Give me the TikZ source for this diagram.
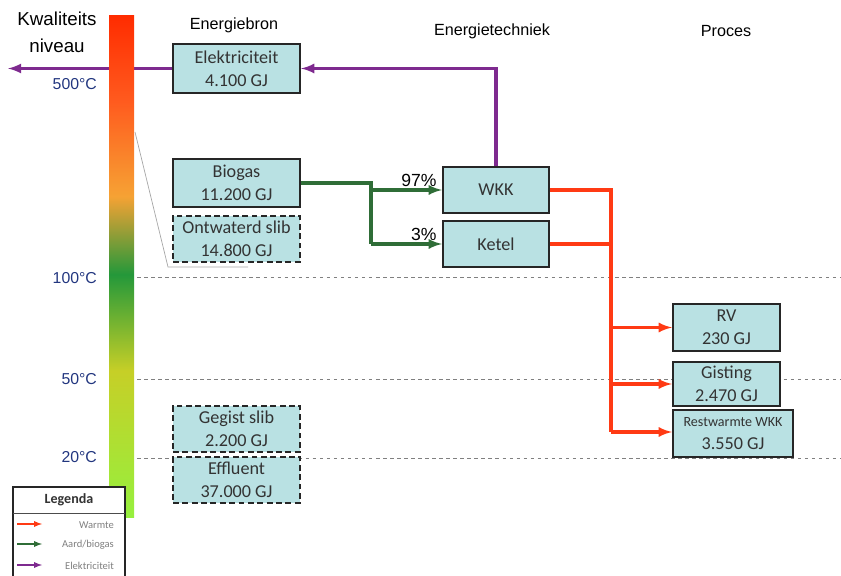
\documentclass[tikz,border=0pt]{standalone}
\usepackage{fontspec}
\setmainfont{Carlito}
\newfontfamily\arialfont{Liberation Sans}
\usepackage{xcolor}
\usetikzlibrary{calc}

\definecolor{boxfill}{HTML}{B9E1E3}
\definecolor{heatred}{HTML}{FF3A14}
\definecolor{gasgreen}{HTML}{2F6D37}
\definecolor{elecpurple}{HTML}{7E2A8F}
\definecolor{tempblue}{HTML}{22367F}
\definecolor{barA}{HTML}{96F03E}
\definecolor{barB}{HTML}{C6CF27}
\definecolor{barC}{HTML}{24983A}
\definecolor{barD}{HTML}{F6A234}
\definecolor{barE}{HTML}{FF5A1E}
\definecolor{barF}{HTML}{FF2C00}

% kleurverloop van de kwaliteitsbalk
\pgfdeclareverticalshading{quality}{100bp}{color(0bp)=(barA); color(25bp)=(barA);
  color(39.6bp)=(barB); color(49.2bp)=(barC); color(57bp)=(barD);
  color(66.6bp)=(barE); color(75bp)=(barF); color(100bp)=(barF)}

\tikzset{
  bron/.style={draw=black!85, line width=2pt, fill=boxfill, align=center,
    inner sep=0pt, text=black!80, font=\fontsize{15.5}{19.5}\selectfont},
  stippel/.style={bron, dash pattern=on 5pt off 3pt},
  niveau/.style={gray, dash pattern=on 3pt off 3pt, line width=0.6pt},
  warmte/.style={->, heatred, line width=2.8pt},
  gas/.style={->, gasgreen, line width=2.8pt},
  elek/.style={->, elecpurple, line width=2.8pt},
  kop/.style={font=\arialfont\fontsize{13.8}{15}\selectfont},
  temp/.style={anchor=east, text=tempblue, font=\arialfont\fontsize{13.5}{15}\selectfont},
  legtekst/.style={anchor=east, text=gray, font=\fontsize{9}{10}\selectfont},
}

\begin{document}
\begin{tikzpicture}[>=latex, x=0.3mm, y=-0.3mm]
    \useasboundingbox (0,0) rectangle (841,576);

    % temperatuurniveaus
    \draw[niveau] (137,277) -- (841,277);
    \draw[niveau] (137,379) -- (841,379);
    \draw[niveau] (137,458) -- (841,458);

    % koppen
    \node[align=center, font=\arialfont\fontsize{16}{23}\selectfont] (kwal) at (57,32) {Kwaliteits\\niveau};
    \node[kop] (hbron) at (234,25) {Energiebron};
    \node[kop] (htech) at (492,31) {Energietechniek};
    \node[kop] (hproc) at (726,31) {Proces};

    % energiebronnen
    \node[bron, minimum width=38.1mm, minimum height=14.7mm] (elek) at (236.5,68.5) {Elektriciteit\\4.100 GJ};
    \node[bron, minimum width=38.1mm, minimum height=14.4mm] (biogas) at (236.5,183) {Biogas\\11.200 GJ};
    \node[stippel, minimum width=38.1mm, minimum height=13.8mm] (ontw) at (236.5,239) {Ontwaterd slib\\14.800 GJ};
    \node[stippel, minimum width=38.1mm, minimum height=13.8mm] (gegist) at (236.5,429) {Gegist slib\\2.200 GJ};
    \node[stippel, minimum width=38.1mm, minimum height=13.8mm] (effl) at (236.5,480) {Effluent\\37.000 GJ};

    % energietechniek
    \node[bron, minimum width=31.8mm, minimum height=13.8mm] (wkk) at (496,190) {WKK};
    \node[bron, minimum width=31.8mm, minimum height=13.8mm] (ketel) at (496,244) {Ketel};

    % proces
    \node[bron, minimum width=32.1mm, minimum height=14.1mm] (rv) at (726.5,327.5) {RV\\230 GJ};
    \node[bron, minimum width=32.1mm, minimum height=13.2mm] (gist) at (726.5,384) {Gisting\\2.470 GJ};
    \node[bron, minimum width=36mm, minimum height=14.1mm] (rest) at (733,433.5)
        {{\fontsize{12}{12}\selectfont Restwarmte WKK}\\3.550 GJ};

    % elektriciteit
    \coordinate (uit) at (8,68.5);
    \draw[elek] (wkk.north) |- (elek.east);
    \draw[elek] (elek.west) -- (uit);

    % kwaliteitsbalk
    \shade[shading=quality] (109,16) rectangle (134,517);
    \draw[gray!70, line width=0.6pt] (135,132) -- (168,267) -- (248,267);

    % temperaturen
    \node[temp] (t500) at (101,84) {500°C};
    \node[temp] (t100) at (101,278) {100°C};
    \node[temp] (t50) at (101,379) {50°C};
    \node[temp] (t20) at (101,457) {20°C};

    % biogas naar WKK en ketel
    \coordinate (gj) at (371,0);
    \draw[gas, -] (biogas.east) -- (biogas.east -| gj) -- (ketel.west -| gj);
    \draw[gas] (wkk.west -| gj) -- (wkk.west);
    \draw[gas] (ketel.west -| gj) -- (ketel.west);
    \node[anchor=south east, inner sep=1pt, font=\arialfont\fontsize{15}{17}\selectfont] (p97) at ($(wkk.west)+(-4,-2)$) {97\%};
    \node[anchor=south east, inner sep=1pt, font=\arialfont\fontsize{15}{17}\selectfont] (p3) at ($(ketel.west)+(-4,-2)$) {3\%};

    % warmte naar proces
    \coordinate (rj) at (611,0);
    \draw[warmte, -] (wkk.east) -- (wkk.east -| rj) -- ($(rj)+(0,432)$);
    \draw[warmte, -] (ketel.east) -- (ketel.east -| rj);
    \draw[warmte] ($(rj)+(0,327.5)$) -- (rv.west);
    \draw[warmte] ($(rj)+(0,384)$) -- (gist.west);
    \draw[warmte] ($(rj)+(0,432)$) -- ($(rest.west)+(0,-1.5)$);

    % legenda
    \fill[white] (13,487) rectangle (125,576);
    \draw[black!85, line width=1.4pt] (13,576) -- (13,487) -- (125,487) -- (125,576);
    \draw[black!70, line width=0.6pt] (13,513) -- (125,513);
    \node[font=\bfseries\fontsize{12}{13}\selectfont, text=black!80] (leg) at (69,500) {Legenda};
    \draw[heatred, ->, line width=1.3pt] (17,524) -- (42,524);
    \draw[gasgreen, ->, line width=1.3pt] (17,544) -- (42,544);
    \draw[elecpurple, ->, line width=1.3pt] (17,565) -- (42,565);
    \node[legtekst] (lw) at (118,525) {Warmte};
    \node[legtekst] (lg) at (118,545) {Aard/biogas};
    \node[legtekst] (le) at (118,566) {Elektriciteit};
\end{tikzpicture}
\end{document}
